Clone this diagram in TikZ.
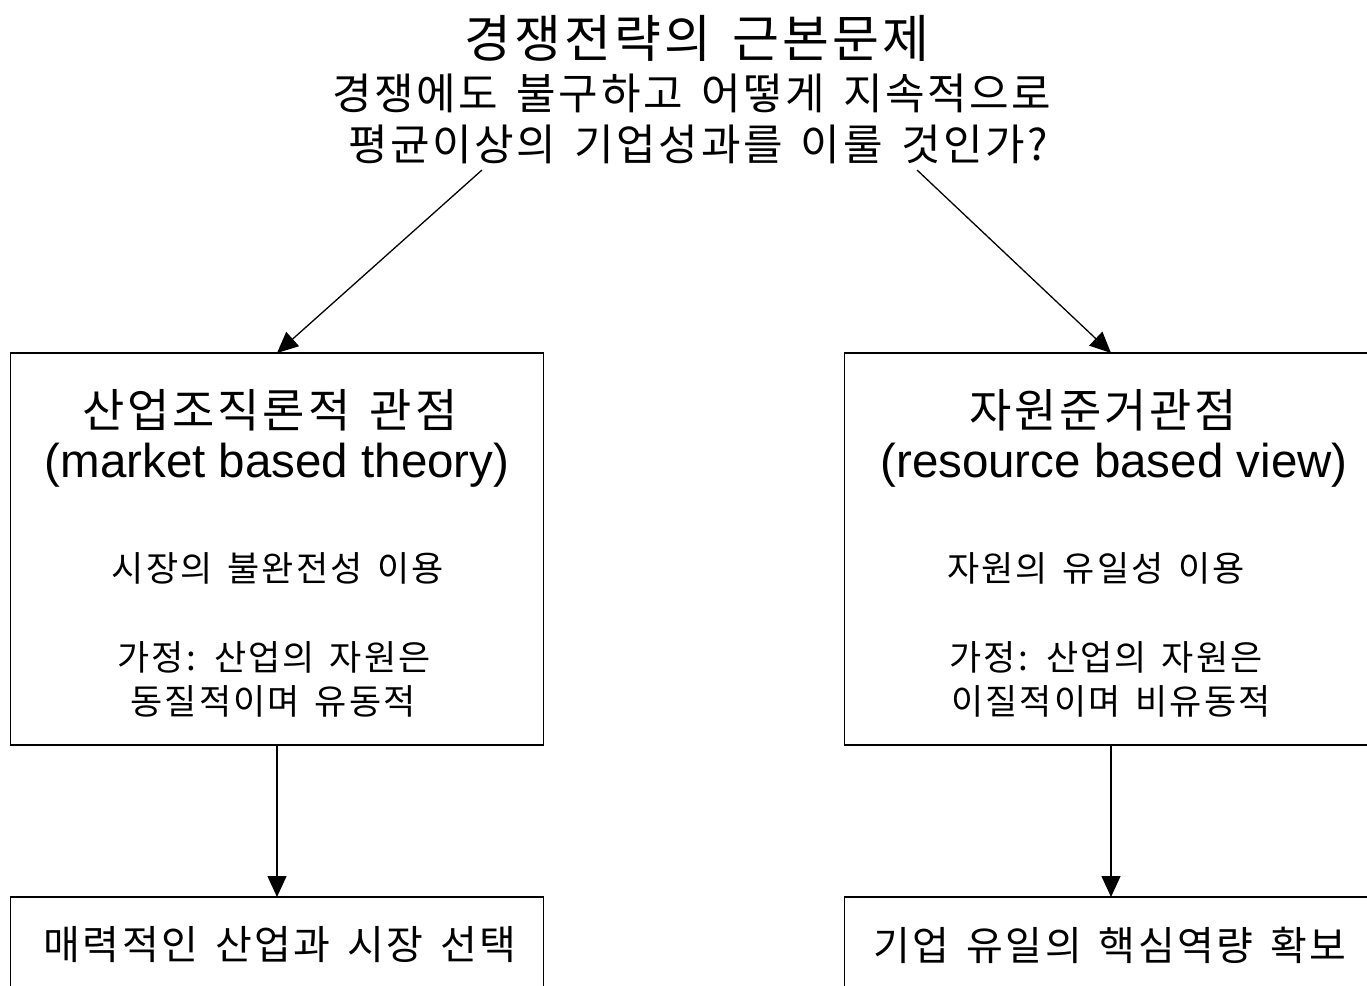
\documentclass[tikz,border=0pt]{standalone}
\usepackage{fontspec}
\setmainfont{Liberation Sans}
\newfontfamily\kr{Noto Sans CJK KR}[WordSpace=1.5,LetterSpace=6.0]
\usetikzlibrary{arrows.meta}
\begin{document}
\begin{tikzpicture}[x=1pt,y=-1pt,
  every node/.style={inner sep=0pt,outer sep=0pt},
  frame/.style={draw,line width=1.3pt,rectangle,minimum width=533pt},
  conn/.style={line width=1.3pt,-{Triangle[length=21pt,width=19pt]}},
  ttl/.style={font=\kr\fontsize{51}{51}\selectfont},
  sub/.style={font=\kr\fontsize{43}{43}\selectfont},
  head/.style={font=\kr\fontsize{46}{46}\selectfont},
  eng/.style={font=\fontsize{47.5}{47.5}\selectfont},
  body/.style={font=\kr\fontsize{35}{35}\selectfont},
  res/.style={font=\kr\fontsize{40}{40}\selectfont}]
\useasboundingbox (0,0) rectangle (1367,985);

% question at the top
\node[ttl] (title) at (697,38) {경쟁전략의 근본문제};
\node[sub] (q1) at (692,93) {경쟁에도 불구하고 어떻게 지속적으로};
\node[sub] (q2) at (698,144) {평균이상의 기업성과를 이룰 것인가?};
\coordinate (qa) at (482,170);
\coordinate (qb) at (917,170);

% two perspectives
\node[frame,minimum height=392pt] (lbox) at (277,549) {};
\node[frame,minimum height=392pt] (rbox) at (1111,549) {};

\node[head] (lh) at (270,410) {산업조직론적 관점};
\node[eng]  (le) at (277,465) {(market based theory)};
\node[body] (l1) at (278,568) {시장의 불완전성 이용};
\node[body] (l2) at (274,657) {가정: 산업의 자원은};
\node[body] (l3) at (273,701) {동질적이며 유동적};

\node[head] (rh) at (1103,410) {자원준거관점};
\node[eng]  (re) at (1114,465) {(resource based view)};
\node[body] (r1) at (1096,568) {자원의 유일성 이용};
\node[body] (r2) at (1106,657) {가정: 산업의 자원은};
\node[body] (r3) at (1111,701) {이질적이며 비유동적};

% resulting strategies
\node[frame,minimum height=110pt] (lbot) at (277,952) {};
\node[frame,minimum height=110pt] (rbot) at (1111,952) {};
\node[res] (lt) at (280,945) {매력적인 산업과 시장 선택};
\node[res] (rt) at (1110,945) {기업 유일의 핵심역량 확보};

% connectors
\draw[conn] (qa) -- (lbox.north);
\draw[conn] (qb) -- (rbox.north);
\draw[conn] (lbox.south) -- (lbot.north);
\draw[conn] (rbox.south) -- (rbot.north);
\end{tikzpicture}
\end{document}
